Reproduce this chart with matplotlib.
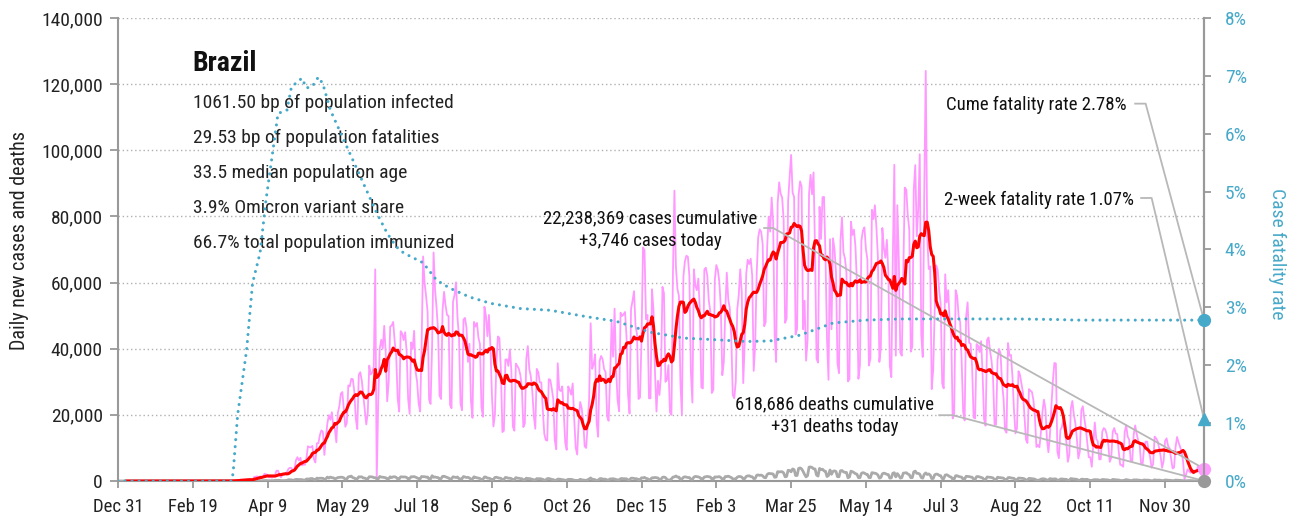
import numpy as np
import pandas as pd
import matplotlib
matplotlib.use("Agg")
import matplotlib.pyplot as plt
from matplotlib import font_manager

# daily new cases (thousands), Dec 31 2019 -> Dec 26 2021, one row per week
cases_k = [
    0, 0, 0, 0, 0, 0, 0,
    0, 0, 0, 0, 0, 0, 0,
    0, 0, 0, 0, 0, 0, 0,
    0, 0, 0, 0, 0, 0, 0,
    0, 0, 0, 0, 0, 0, 0,
    0, 0, 0, 0, 0, 0, 0,
    0, 0, 0, 0, 0, 0, 0,
    0, 0, 0, 0, 0, 0, 0,
    0, 0.001, 0, 0, 0.001, 0, 0,
    0.001, 0.002, 0.003, 0.005, 0.006, 0.008, 0.006,
    0.009, 0.018, 0.024, 0.052, 0.021, 0.079, 0.034,
    0.057, 0.137, 0.193, 0.283, 0.224, 0.418, 0.345,
    0.310, 0.232, 0.482, 0.502, 0.487, 0.352, 0.323,
    1.2, 1.3, 1.4, 1.1, 1.4, 0.9, 1.2,
    2.2, 2.0, 1.9, 1.1, 1.2, 1.0, 1.3,
    1.8, 3.1, 3.1, 2.0, 1.1, 1.9, 1.9,
    2.3, 2.7, 3.7, 4.0, 3.9, 3.0, 3.5,
    6.3, 7.2, 6.2, 7.0, 4.7, 5.0, 4.9,
    6.9, 10.5, 10.2, 10.2, 10.6, 6.6, 5.6,
    11.4, 11.4, 13.9, 15.3, 14.9, 7.9, 13.1,
    17.4, 19.9, 18.5, 20.8, 16.5, 15.8, 11.7,
    20.6, 22.6, 26.4, 26.9, 21.7, 16.4, 17.6,
    28.9, 28.6, 30.9, 30.8, 27.1, 18.9, 15.7,
    32.1, 32.9, 30.4, 25.9, 21.7, 17.1, 20.6,
    34.9, 32.2, 32.8, 34.5, 64.0, 0.0, 24.0,
    40.0, 42.7, 40.0, 46.9, 38.7, 24.1, 30.0,
    46.7, 47.0, 48.1, 42.2, 37.9, 25.0, 21.0,
    45.3, 44.6, 42.6, 45.0, 39.0, 24.8, 20.3,
    41.9, 39.9, 45.4, 33.0, 30.0, 23.5, 21.0,
    41.0, 67.9, 59.9, 55.9, 51.1, 24.6, 23.3,
    40.8, 69.1, 57.8, 52.4, 45.4, 25.8, 24.8,
    51.6, 57.2, 53.1, 50.2, 49.9, 23.0, 22.0,
    54.2, 56.2, 60.1, 49.3, 43.6, 23.4, 21.4,
    48.8, 49.3, 46.3, 36.0, 41.5, 24.1, 19.1,
    48.1, 46.7, 47.8, 43.3, 41.4, 22.3, 19.4,
    52.7, 49.9, 43.8, 50.2, 40.6, 26.0, 16.5,
    20.0, 35.8, 43.7, 43.2, 33.5, 14.8, 15.2,
    36.7, 36.8, 34.8, 39.8, 33.3, 16.4, 15.2,
    35.5, 34.8, 33.9, 32.1, 28.4, 16.3, 17.4,
    37.0, 40.8, 33.8, 31.7, 27.1, 19.7, 15.8,
    33.9, 32.9, 29.8, 29.8, 21.7, 14.3, 12.4,
    12.2, 30.8, 30.6, 28.0, 24.8, 12.4, 9.6,
    35.6, 27.6, 27.2, 28.6, 21.1, 11.6, 9.4,
    28.6, 27.6, 26.1, 29.5, 18.9, 10.1, 8.0,
    18.1, 23.9, 22.0, 18.0, 10.5, 10.0, 17.0,
    25.0, 47.7, 33.9, 35.3, 38.3, 17.6, 13.4,
    36.3, 37.8, 36.8, 33.8, 32.9, 19.6, 18.2,
    31.1, 47.9, 37.6, 52.1, 34.1, 24.5, 21.1,
    50.9, 49.9, 50.4, 51.1, 43.4, 26.1, 20.4,
    52.0, 54.5, 57.4, 46.9, 44.4, 24.8, 25.2,
    42.9, 70.6, 69.8, 48.9, 50.2, 25.0, 25.0,
    58.0, 51.7, 33.0, 21.0, 30.3, 26.0, 32.0,
    58.7, 56.8, 30.0, 30.6, 35.0, 20.8, 20.0,
    62.4, 87.8, 64.7, 58.1, 56.0, 29.8, 20.0,
    61.8, 66.4, 68.1, 67.8, 62.0, 33.0, 23.7,
    64.0, 59.1, 57.7, 61.2, 51.4, 28.3, 28.0,
    63.9, 64.5, 62.0, 54.4, 51.3, 26.6, 27.6,
    60.8, 65.3, 63.9, 60.3, 52.7, 32.0, 35.9,
    51.5, 63.0, 54.8, 52.3, 43.6, 26.0, 25.0,
    30.0, 51.9, 56.2, 64.0, 57.2, 29.6, 42.0,
    62.7, 66.9, 65.6, 67.2, 62.1, 33.3, 41.3,
    62.9, 73.7, 76.1, 75.3, 71.6, 46.8, 48.0,
    70.8, 79.9, 75.4, 85.7, 78.2, 43.8, 36.0,
    83.9, 90.3, 86.9, 85.7, 79.1, 47.8, 49.2,
    84.5, 91.9, 98.6, 87.2, 85.9, 44.3, 46.0,
    86.5, 90.6, 89.0, 45.9, 54.5, 36.4, 42.6,
    86.9, 92.6, 86.7, 93.3, 69.6, 37.0, 35.8,
    82.9, 73.2, 85.8, 85.9, 67.6, 42.9, 30.6,
    73.1, 45.9, 73.4, 70.1, 63.2, 35.6, 32.6,
    72.7, 79.7, 69.1, 67.3, 62.9, 30.1, 30.8,
    78.4, 74.4, 76.0, 71.0, 60.0, 30.9, 35.0,
    72.7, 75.7, 76.7, 70.2, 67.0, 34.9, 37.0,
    82.0, 79.2, 83.4, 76.9, 68.0, 36.0, 40.3,
    76.5, 70.4, 67.5, 72.9, 63.0, 34.8, 31.4,
    67.9, 95.6, 37.9, 83.4, 67.3, 38.8, 37.9,
    62.9, 88.7, 88.1, 80.3, 76.0, 39.1, 40.6,
    88.1, 95.5, 74.0, 82.3, 98.8, 44.2, 37.5,
    87.0, 124.0, 74.0, 64.1, 64.9, 27.8, 33.7,
    51.8, 65.2, 63.7, 57.7, 53.5, 29.5, 28.0,
    62.5, 54.0, 57.7, 48.5, 45.6, 18.9, 20.1,
    57.7, 56.0, 49.7, 48.1, 36.3, 21.0, 18.3,
    49.8, 54.0, 41.8, 41.5, 34.5, 19.2, 18.9,
    41.4, 40.9, 39.0, 42.3, 32.5, 18.7, 16.7,
    42.7, 43.4, 39.3, 36.3, 31.2, 17.1, 17.0,
    36.6, 39.9, 38.6, 29.6, 25.0, 15.4, 14.6,
    41.7, 37.9, 38.1, 31.3, 21.3, 14.4, 16.0,
    33.2, 32.1, 29.3, 26.7, 19.8, 12.5, 11.5,
    27.8, 27.3, 26.9, 24.4, 19.3, 10.3, 10.9,
    10.2, 14.8, 20.7, 24.6, 21.9, 12.7, 8.7,
    13.8, 22.6, 30.4, 35.7, 35.5, 8.9, 6.9,
    15.4, 16.4, 18.4, 15.4, 11.7, 5.8, 8.0,
    22.0, 24.2, 20.1, 17.5, 13.0, 6.8, 8.9,
    21.4, 22.6, 18.9, 15.9, 11.5, 7.2, 7.2,
    4.3, 11.1, 17.7, 12.7, 12.0, 6.5, 6.6,
    14.9, 16.0, 15.6, 14.0, 11.2, 5.8, 7.0,
    14.9, 16.0, 14.3, 14.2, 9.0, 4.9, 4.8,
    4.3, 14.8, 16.9, 13.4, 12.5, 6.1, 5.7,
    13.9, 16.8, 14.3, 12.2, 11.0, 5.0, 5.1,
    10.3, 11.9, 11.9, 9.3, 7.2, 4.0, 5.1,
    13.4, 12.9, 12.1, 10.0, 7.6, 4.0, 6.0,
    12.1, 12.9, 10.6, 9.9, 6.9, 3.8, 4.1,
    10.3, 13.3, 11.7, 10.3, 9.0, 6.0, 0.5,
    2.0, 3.5, 3.0, 2.5, 3.5, 3.0, 2.8,
    3.0, 4.5, 3.5, 2.2, 1.0, 3.746,
]

# daily new deaths, same days
deaths = [
    0, 0, 0, 0, 0, 0, 0,
    0, 0, 0, 0, 0, 0, 0,
    0, 0, 0, 0, 0, 0, 0,
    0, 0, 0, 0, 0, 0, 0,
    0, 0, 0, 0, 0, 0, 0,
    0, 0, 0, 0, 0, 0, 0,
    0, 0, 0, 0, 0, 0, 0,
    0, 0, 0, 0, 0, 0, 0,
    0, 0, 0, 0, 0, 0, 0,
    0, 0, 0, 0, 0, 0, 0,
    0, 0, 0, 0, 0, 0, 0,
    1, 3, 4, 7, 11, 15, 9,
    22, 13, 18, 20, 22, 23, 23,
    42, 40, 60, 73, 54, 67, 114,
    133, 141, 115, 68, 99, 105, 99,
    204, 188, 217, 206, 115, 113, 113,
    166, 165, 407, 357, 346, 189, 338,
    474, 449, 435, 428, 421, 275, 263,
    600, 615, 610, 751, 730, 496, 396,
    881, 749, 844, 824, 816, 485, 674,
    1179, 888, 1188, 1001, 965, 653, 807,
    1039, 1086, 1156, 1124, 956, 480, 623,
    1262, 1349, 1473, 1005, 904, 525, 679,
    1274, 1239, 1261, 909, 892, 612, 627,
    1282, 1269, 1238, 1022, 1022, 641, 654,
    1374, 1185, 1141, 1055, 990, 552, 692,
    1280, 1038, 1252, 1290, 1091, 602, 620,
    1254, 1223, 1220, 1214, 1071, 631, 733,
    1300, 1261, 1322, 1163, 921, 716, 632,
    1367, 1284, 1311, 1156, 1211, 555, 614,
    1595, 1129, 1212, 1088, 1048, 541, 703,
    1394, 1437, 1262, 1079, 905, 572, 620,
    1274, 1175, 1060, 1212, 709, 620, 684,
    1352, 1204, 1054, 1113, 892, 494, 620,
    1271, 1085, 984, 855, 758, 366, 553,
    1215, 1184, 874, 855, 682, 310, 459,
    1075, 1136, 983, 874, 815, 415, 447,
    1090, 1000, 858, 829, 739, 363, 377,
    1031, 869, 831, 728, 690, 335, 307,
    863, 729, 740, 657, 491, 363, 269,
    734, 651, 724, 617, 501, 219, 306,
    723, 754, 620, 497, 405, 230, 216,
    574, 566, 497, 461, 334, 201, 263,
    510, 470, 503, 386, 220, 190, 179,
    200, 505, 370, 289, 218, 160, 389,
    615, 925, 496, 514, 359, 189, 216,
    676, 754, 559, 574, 536, 302, 322,
    630, 638, 691, 587, 438, 317, 327,
    697, 755, 672, 689, 661, 312, 377,
    835, 849, 770, 681, 674, 279, 433,
    964, 936, 1092, 790, 706, 333, 524,
    968, 963, 1074, 1008, 914, 431, 498,
    1111, 1194, 1041, 462, 314, 293, 620,
    1171, 1242, 1524, 1186, 1171, 469, 621,
    1110, 1274, 1151, 1060, 1050, 551, 452,
    1183, 1382, 1316, 1235, 1054, 595, 627,
    1214, 1283, 1386, 1279, 1209, 595, 595,
    1232, 1210, 1239, 1332, 1051, 603, 527,
    1350, 1330, 1452, 1239, 1045, 635, 610,
    639, 1149, 1367, 1347, 1179, 657, 722,
    1386, 1541, 1582, 1337, 1275, 721, 778,
    1726, 1840, 1699, 1800, 1555, 1054, 987,
    1972, 2286, 2233, 2216, 2085, 1127, 1207,
    2841, 2736, 2798, 2815, 2438, 1259, 1383,
    3251, 3158, 2777, 3650, 3438, 1656, 1660,
    3780, 3950, 3673, 2922, 1987, 1240, 1623,
    4195, 4249, 4090, 3693, 3647, 1803, 1480,
    3808, 3459, 3560, 3070, 2929, 1347, 1657,
    3321, 2027, 2914, 3076, 2865, 1305, 1279,
    3086, 3163, 2777, 2595, 2595, 983, 1207,
    2966, 2811, 2550, 2202, 2087, 1024, 1006,
    2311, 2533, 2383, 2087, 1998, 1036, 1009,
    2517, 2448, 2340, 2215, 1824, 860, 1058,
    2173, 2377, 2245, 2012, 1937, 860, 954,
    2346, 2504, 1241, 2244, 1689, 873, 1010,
    2378, 2448, 2504, 2113, 1912, 1003, 1024,
    2760, 2997, 2311, 2301, 2081, 1036, 856,
    2032, 2449, 1966, 2128, 1776, 742, 777,
    1893, 2081, 2029, 1689, 1594, 746, 695,
    1780, 1910, 1646, 1324, 1172, 554, 595,
    1594, 1589, 1372, 1261, 1150, 542, 572,
    1424, 1388, 1334, 1212, 1131, 578, 465,
    1318, 1344, 1222, 1064, 924, 468, 383,
    1209, 1181, 1121, 1058, 940, 389, 342,
    1148, 1033, 1002, 925, 870, 371, 317,
    1009, 1064, 921, 854, 792, 274, 268,
    895, 845, 808, 774, 656, 288, 269,
    791, 748, 695, 643, 540, 230, 249,
    269, 561, 662, 656, 533, 279, 241,
    712, 627, 582, 630, 626, 237, 229,
    576, 629, 538, 511, 487, 212, 256,
    738, 657, 591, 560, 494, 225, 189,
    527, 542, 443, 464, 492, 257, 184,
    174, 332, 424, 369, 401, 182, 268,
    433, 447, 374, 359, 302, 168, 148,
    476, 437, 358, 339, 300, 150, 130,
    148, 260, 433, 303, 250, 111, 150,
    347, 310, 341, 270, 240, 144, 160,
    320, 255, 279, 247, 163, 77, 120,
    370, 246, 252, 264, 217, 134, 130,
    310, 287, 229, 214, 181, 94, 120,
    280, 250, 220, 180, 150, 90, 55,
    60, 110, 140, 120, 110, 60, 50,
    80, 130, 110, 60, 40, 31,
]

# cumulative case fatality rate (%), by day number
cfr_day = [0, 76, 77, 80, 83, 86, 90, 95, 99, 103, 107, 113, 116, 123, 126,
           130, 134, 137, 142, 151, 161, 173, 180, 186, 191, 204, 213, 222,
           235, 249, 269, 289, 313, 333, 356, 378, 400, 420, 436, 456, 478,
           500, 523, 560, 600, 628, 640, 680, 726]
cfr_pct = [0, 0, 0.14, 1.14, 1.70, 2.26, 3.42, 3.94, 4.86, 5.60, 6.35, 6.41,
           6.81, 6.96, 6.79, 6.82, 6.98, 6.86, 6.41, 5.89, 5.32, 4.63, 4.28,
           4.05, 3.94, 3.77, 3.47, 3.33, 3.18, 3.07, 2.98, 2.95, 2.84, 2.76,
           2.57, 2.47, 2.44, 2.41, 2.42, 2.52, 2.73, 2.78, 2.80, 2.80, 2.80,
           2.79, 2.78, 2.78, 2.78]
two_week_cfr = 1.07
cases_total = 22238369
deaths_total = 618686

country = "Brazil"
facts = ["1061.50 bp of population infected",
         "29.53 bp of population fatalities",
         "33.5 median population age",
         "3.9% Omicron variant share",
         "66.7% total population immunized"]

# narrow sans face if one is installed
available = {f.name for f in font_manager.fontManager.ttflist}
narrow = next((n for n in ["Roboto Condensed", "Liberation Sans Narrow",
                           "DejaVu Sans Condensed"] if n in available), None)
if narrow:
    plt.rcParams["font.family"] = narrow
else:
    plt.rcParams["font.family"] = "DejaVu Sans"
    plt.rcParams["font.stretch"] = "condensed"

PINK = "#ff99ff"
RED = "#ff0000"
GREY = "#aaaaaa"
BLUE = "#47a9c9"
SPINE = "#999999"

cases = np.array(cases_k) * 1000
deaths = np.array(deaths)
days = np.arange(len(cases))
dates = pd.date_range("2019-12-31", periods=len(cases), freq="D")
avg7 = pd.Series(cases).rolling(7).mean()
last = days[-1]

fig = plt.figure(figsize=(12.96, 5.2), dpi=100)
ax = fig.add_axes([0.0910, 0.075, 0.838, 0.8904])
ax2 = ax.twinx()

ax.plot(days, cases, color=PINK, lw=1.3, zorder=2)
ax.plot(days, deaths, color=GREY, lw=2, zorder=3)
ax.plot(days, avg7, color=RED, lw=2.2, zorder=4)
ax2.plot(cfr_day, cfr_pct, color=BLUE, lw=2.2, linestyle=(0, (0.01, 2.3)),
         dash_capstyle="round")

ax.set_xlim(0, last)
ax.set_ylim(0, 140000)
ax2.set_ylim(0, 8)

ax.set_xticks(days[::50])
ax.set_xticklabels([d.strftime("%b %-d") for d in dates[::50]])
ax.set_yticks(np.arange(0, 140001, 20000))
ax.set_yticklabels([f"{v:,}" for v in range(0, 140001, 20000)])
ax2.set_yticks(range(0, 9))
ax2.set_yticklabels([f"{v}%" for v in range(0, 9)])

ax.yaxis.grid(True, linestyle=(0, (1, 2)), color="#b0b0b0", lw=1)
ax.set_axisbelow(True)
ax.spines["top"].set_visible(False)
for s in ["top", "left", "bottom"]:
    ax2.spines[s].set_visible(False)
for a in (ax, ax2):
    for s in a.spines.values():
        s.set_color(SPINE)
        s.set_linewidth(1.5)
ax.tick_params(axis="y", length=6, width=1.3, color=SPINE, labelsize=14,
               pad=5, labelcolor="#222222")
ax.tick_params(axis="x", length=5, width=1.3, color=SPINE, labelsize=13.5,
               pad=7, labelcolor="#222222")
ax2.tick_params(axis="y", length=5, width=1.3, color=SPINE, labelsize=14,
                pad=10, labelcolor=BLUE)

fig.text(20 / 1296, 1 - 241 / 520, "Daily new cases and deaths", rotation=90,
         ha="center", va="center", fontsize=14.5, color="#222222")
fig.text(1277 / 1296, 1 - 254 / 520, "Case fatality rate", rotation=270,
         ha="center", va="center", fontsize=14, color=BLUE)

# info block
ax.text(0.069, 0.901, country, transform=ax.transAxes, fontsize=20,
        fontweight="bold", va="center", ha="left", color="#111111")
for i, line in enumerate(facts):
    ax.text(0.069, 0.816 - i * 0.0755, line, transform=ax.transAxes,
            fontsize=14, va="center", ha="left", color="#222222")

# end markers
ax.plot(last, cases[-1], "o", ms=8.5, color=PINK, clip_on=False, zorder=6)
ax.plot(last, deaths[-1], "o", ms=8.5, color="#999999", clip_on=False, zorder=6)
ax2.plot(last, cfr_pct[-1], "o", ms=8.5, color=BLUE, clip_on=False, zorder=6)
ax2.plot(last, two_week_cfr, "^", ms=9, color=BLUE, clip_on=False, zorder=6)

LEAD = dict(color="#b8b8b8", lw=1.3, clip_on=False, zorder=5)
NOTE = dict(fontsize=13.5, color="#111111")

ax.text(356, 76000, f"{cases_total:,} cases cumulative\n+{int(cases[-1]):,} cases today",
        ha="center", va="center", linespacing=1.35, **NOTE)
ax.plot([432, 438, last], [76500, 76500, cases[-1]], **LEAD)

ax.text(479, 19700, f"{deaths_total:,} deaths cumulative\n+{deaths[-1]:,} deaths today",
        ha="center", va="center", linespacing=1.35, **NOTE)
ax.plot([549, 558, last], [19900, 19900, deaths[-1]], **LEAD)

ax2.text(674, 6.49, f"Cume fatality rate {cfr_pct[-1]:.2f}%", ha="right",
         va="center", **NOTE)
ax2.plot([680, 687, last], [6.52, 6.52, cfr_pct[-1]], **LEAD)

ax2.text(679, 4.86, f"2-week fatality rate {two_week_cfr:.2f}%", ha="right",
         va="center", **NOTE)
ax2.plot([684, 691, last], [4.89, 4.89, two_week_cfr], **LEAD)

fig.savefig("out.png", dpi=100)
